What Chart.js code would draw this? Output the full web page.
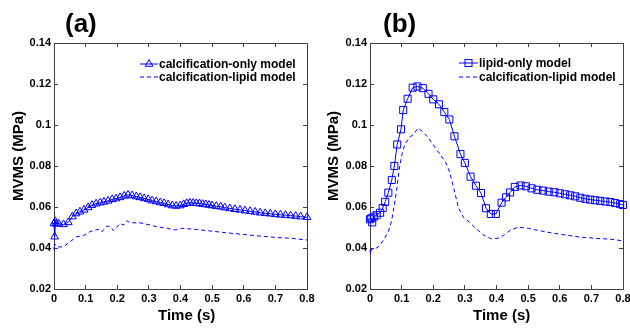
<!DOCTYPE html>
<html>
<head>
<meta charset="utf-8">
<script src="https://cdn.jsdelivr.net/npm/chart.js@4.4.1/dist/chart.umd.min.js"></script>
<style>
  body { margin: 0; background: #fff; }
  #wrap { position: relative; width: 630px; height: 328px; font-family: "Liberation Sans", Arial, sans-serif; color: #000; }
  canvas { position: absolute; top: 0; }
  .lbl { position: absolute; font-weight: bold; white-space: nowrap; line-height: 1; }
  .panel { font-size: 26px; top: 10px; }
  .xt { font-size: 15px; top: 307px; }
  .yt { font-size: 15px; transform-origin: 0 0; transform: rotate(-90deg); }
  .leg { font-size: 12px; }
  svg { position: absolute; }
</style>
</head>
<body>
<div id="wrap">
  <canvas id="chartA" width="315" height="328" style="left:0"></canvas>
  <canvas id="chartB" width="315" height="328" style="left:315px"></canvas>

  <div class="lbl panel" style="left:65px">(a)</div>
  <div class="lbl panel" style="left:383px">(b)</div>
  <div class="lbl xt" style="left:158px">Time (s)</div>
  <div class="lbl xt" style="left:473px">Time (s)</div>
  <div class="lbl yt" style="left:10px; top:201px">MVMS (MPa)</div>
  <div class="lbl yt" style="left:325px; top:201px">MVMS (MPa)</div>

  <!-- legend (a) -->
  <svg style="left:140px; top:57px" width="18" height="14">
    <line x1="0" y1="7" x2="18" y2="7" stroke="#0000ff" stroke-width="1"/>
    <polygon points="9,2.5 12.9,9.3 5.1,9.3" fill="none" stroke="#0000ff" stroke-width="1"/>
  </svg>
  <div class="lbl leg" style="left:159px; top:58px">calcification-only model</div>
  <svg style="left:140px; top:70px" width="18" height="14">
    <line x1="0" y1="7" x2="18" y2="7" stroke="#0000ff" stroke-width="1" stroke-dasharray="4,3"/>
  </svg>
  <div class="lbl leg" style="left:159px; top:71px">calcification-lipid model</div>

  <!-- legend (b) -->
  <svg style="left:459px; top:56px" width="19" height="14">
    <line x1="0" y1="7" x2="19" y2="7" stroke="#0000ff" stroke-width="1"/>
    <rect x="6" y="3.5" width="7" height="7" fill="none" stroke="#0000ff" stroke-width="1"/>
  </svg>
  <div class="lbl leg" style="left:479px; top:57px">lipid-only model</div>
  <svg style="left:459px; top:70px" width="19" height="14">
    <line x1="0" y1="7" x2="19" y2="7" stroke="#0000ff" stroke-width="1" stroke-dasharray="4,3"/>
  </svg>
  <div class="lbl leg" style="left:479px; top:71px">calcification-lipid model</div>
</div>

<script>
// ---- tick labels ----
const xTickLabels = ['0', '0.1', '0.2', '0.3', '0.4', '0.5', '0.6', '0.7', '0.8'];
const yTickLabels = ['0.02', '0.04', '0.06', '0.08', '0.1', '0.12', '0.14'];

// ---- (a) calcification-only model ----
const timeCalcOnly = [0, 0.002, 0.004, 0.006, 0.015, 0.03, 0.045, 0.058, 0.07, 0.082, 0.095, 0.108, 0.12, 0.133, 0.146, 0.158, 0.171, 0.184, 0.196, 0.209, 0.222, 0.234, 0.247, 0.26, 0.272, 0.285, 0.298, 0.31, 0.323, 0.336, 0.348, 0.361, 0.374, 0.386, 0.399, 0.41, 0.42, 0.43, 0.44, 0.45, 0.46, 0.47, 0.48, 0.49, 0.5, 0.513, 0.527, 0.54, 0.556, 0.572, 0.588, 0.604, 0.62, 0.636, 0.652, 0.668, 0.684, 0.7, 0.716, 0.732, 0.748, 0.764, 0.78, 0.8];
const mvmsCalcOnly = [0.052, 0.0455, 0.053, 0.0518, 0.0518, 0.0515, 0.0525, 0.0553, 0.0568, 0.0577, 0.0586, 0.0598, 0.0609, 0.0616, 0.0621, 0.0625, 0.063, 0.0637, 0.0641, 0.0647, 0.0654, 0.0659, 0.0656, 0.0651, 0.0647, 0.0642, 0.0637, 0.0631, 0.0627, 0.0622, 0.0618, 0.0612, 0.0607, 0.0605, 0.0607, 0.0613, 0.0618, 0.062, 0.0619, 0.0618, 0.0617, 0.0614, 0.0612, 0.061, 0.0607, 0.0604, 0.0601, 0.0597, 0.0593, 0.0589, 0.0586, 0.0582, 0.0579, 0.0576, 0.0572, 0.0569, 0.0567, 0.0564, 0.0562, 0.056, 0.0558, 0.0556, 0.0553, 0.055];

// ---- (a) calcification-lipid model ----
const timeCalcLipidA = [0, 0.001, 0.002, 0.012, 0.03, 0.05, 0.072, 0.093, 0.114, 0.14, 0.151, 0.167, 0.178, 0.188, 0.209, 0.22, 0.23, 0.24, 0.272, 0.304, 0.325, 0.357, 0.383, 0.404, 0.446, 0.488, 0.541, 0.593, 0.646, 0.699, 0.752, 0.8];
const mvmsCalcLipidA = [0.0405, 0.039, 0.042, 0.0405, 0.0406, 0.043, 0.0455, 0.046, 0.048, 0.0491, 0.0478, 0.0507, 0.0505, 0.0485, 0.052, 0.0512, 0.0533, 0.0523, 0.0523, 0.0512, 0.0504, 0.0496, 0.0488, 0.0496, 0.0491, 0.0484, 0.0475, 0.0467, 0.0459, 0.0452, 0.0447, 0.0439];

// ---- (b) lipid-only model ----
const timeLipidOnly = [0, 0.004, 0.007, 0.012, 0.021, 0.032, 0.04, 0.048, 0.058, 0.069, 0.077, 0.086, 0.098, 0.105, 0.119, 0.135, 0.15, 0.167, 0.185, 0.2, 0.218, 0.235, 0.251, 0.267, 0.286, 0.3, 0.318, 0.335, 0.351, 0.367, 0.382, 0.398, 0.416, 0.43, 0.443, 0.458, 0.476, 0.493, 0.511, 0.529, 0.547, 0.565, 0.583, 0.6, 0.617, 0.633, 0.649, 0.665, 0.681, 0.696, 0.712, 0.728, 0.744, 0.76, 0.775, 0.791, 0.8];
const mvmsLipidOnly = [0.054, 0.0545, 0.0525, 0.0553, 0.056, 0.0572, 0.0595, 0.0625, 0.067, 0.0732, 0.08, 0.0905, 0.0979, 0.1073, 0.1128, 0.1182, 0.1188, 0.118, 0.1152, 0.1125, 0.1101, 0.1063, 0.1027, 0.0945, 0.0858, 0.0815, 0.0748, 0.0704, 0.0668, 0.0594, 0.0566, 0.0566, 0.0621, 0.0647, 0.0671, 0.0698, 0.0705, 0.0701, 0.0691, 0.0684, 0.068, 0.0675, 0.0672, 0.0667, 0.0662, 0.0657, 0.0652, 0.0645, 0.064, 0.0636, 0.0633, 0.063, 0.0627, 0.0624, 0.0619, 0.0614, 0.061];

// ---- (b) calcification-lipid model ----
const timeCalcLipidB = [0, 0.002, 0.004, 0.015, 0.03, 0.045, 0.058, 0.068, 0.076, 0.084, 0.092, 0.1, 0.11, 0.125, 0.138, 0.152, 0.165, 0.18, 0.195, 0.21, 0.225, 0.24, 0.252, 0.265, 0.28, 0.295, 0.315, 0.335, 0.36, 0.385, 0.405, 0.425, 0.445, 0.47, 0.5, 0.56, 0.61, 0.665, 0.715, 0.76, 0.8];
const mvmsCalcLipidB = [0.039, 0.037, 0.0395, 0.0395, 0.041, 0.0445, 0.048, 0.053, 0.06, 0.068, 0.078, 0.085, 0.0905, 0.094, 0.0955, 0.0985, 0.097, 0.0945, 0.0915, 0.088, 0.085, 0.0815, 0.077, 0.069, 0.0595, 0.055, 0.0525, 0.0495, 0.0462, 0.0444, 0.0448, 0.0465, 0.0488, 0.0502, 0.0496, 0.0477, 0.0465, 0.0453, 0.0447, 0.0443, 0.0435];

const BLUE = '#0000ff';
const AXIS = '#404040';
Chart.defaults.font.family = '"Liberation Sans", Arial, sans-serif';
Chart.defaults.color = '#000';

function pts(t, v) {
  return t.map((x, i) => ({ x: x, y: v[i] }));
}

// stop chart.js from shrinking the plot to make room for end labels
function noPad(s) {
  s.paddingLeft = 0; s.paddingRight = 0; s.paddingTop = 0; s.paddingBottom = 0;
}

function makeScales(leftW) {
  const tickFont = { size: 11, weight: 'bold' };
  const grid = { drawOnChartArea: false, color: AXIS, tickLength: -4 };
  const border = { display: true, color: AXIS, width: 1 };
  return {
    x: {
      type: 'linear', position: 'bottom', min: 0, max: 0.8,
      grid: grid, border: border,
      ticks: { stepSize: 0.1, autoSkip: false, maxRotation: 0, padding: 7, font: tickFont,
               callback: (v, i) => xTickLabels[i] },
      afterFit: s => { s.height = 39; noPad(s); }
    },
    x2: {
      type: 'linear', position: 'top', min: 0, max: 0.8,
      grid: grid, border: border,
      ticks: { stepSize: 0.1, display: false },
      afterFit: s => { s.height = 0; noPad(s); }
    },
    y: {
      type: 'linear', position: 'left', min: 0.02, max: 0.14,
      grid: grid, border: border,
      ticks: { stepSize: 0.02, autoSkip: false, padding: 7, font: tickFont,
               callback: (v, i) => yTickLabels[i] },
      afterFit: s => { s.width = leftW; noPad(s); }
    },
    y2: {
      type: 'linear', position: 'right', min: 0.02, max: 0.14,
      grid: grid, border: border,
      ticks: { stepSize: 0.02, display: false },
      afterFit: s => { s.width = 0; noPad(s); }
    }
  };
}

function makeChart(id, solidPts, solidStyle, dashPts, leftW, rightPad) {
  return new Chart(id, {
    type: 'line',
    data: {
      datasets: [{
        data: solidPts,
        borderColor: BLUE,
        borderWidth: 1,
        pointStyle: solidStyle,
        pointRadius: solidStyle === 'rect' ? 5 : 4.5,
        pointBorderColor: BLUE,
        pointBackgroundColor: 'rgba(0,0,0,0)',
        pointBorderWidth: 1,
        tension: 0,
        fill: false
      }, {
        data: dashPts,
        borderColor: BLUE,
        borderWidth: 1,
        borderDash: [4, 3],
        pointRadius: 0,
        tension: 0,
        fill: false
      }]
    },
    options: {
      responsive: false,
      animation: false,
      devicePixelRatio: 1,
      clip: false,
      layout: { padding: { top: 43, right: rightPad, left: 0, bottom: 0 } },
      scales: makeScales(leftW),
      plugins: { legend: { display: false }, tooltip: { enabled: false } }
    }
  });
}

makeChart('chartA', pts(timeCalcOnly, mvmsCalcOnly), 'triangle', pts(timeCalcLipidA, mvmsCalcLipidA), 54, 8);
makeChart('chartB', pts(timeLipidOnly, mvmsLipidOnly), 'rect', pts(timeCalcLipidB, mvmsCalcLipidB), 55, 7);
</script>
</body>
</html>
